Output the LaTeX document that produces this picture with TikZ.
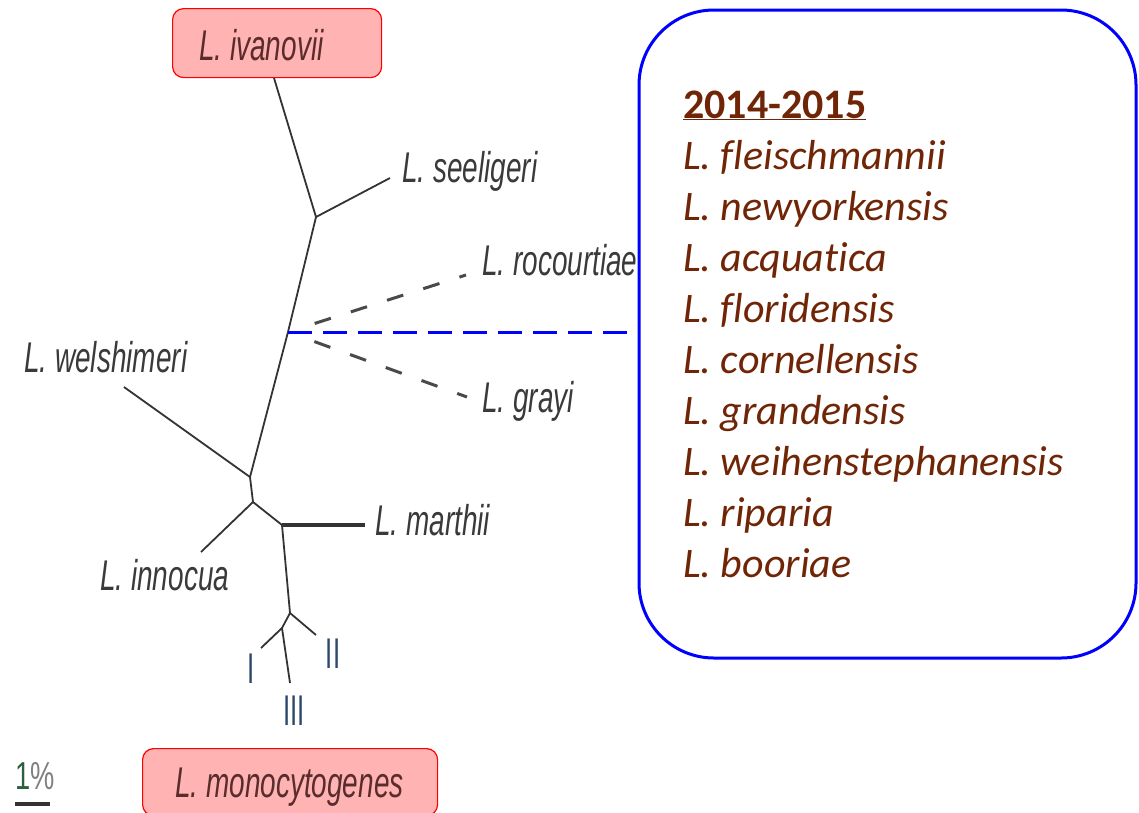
\documentclass[tikz,border=0pt]{standalone}
\usepackage{fontspec}
\setmainfont{Liberation Sans}
\newfontfamily\listfont[Ligatures={NoCommon}]{Carlito}
\usepackage{graphicx}
\usetikzlibrary{calc}

\definecolor{treegray}{HTML}{333333}
\definecolor{labelgray}{HTML}{3A3A3A}
\definecolor{newgray}{HTML}{4A4A4A}
\definecolor{listbrown}{RGB}{112,38,6}
\definecolor{pinkfill}{HTML}{FFB3B3}
\definecolor{boxtext}{HTML}{5A2C2C}
\definecolor{typeblue}{HTML}{2E4A6B}
\definecolor{scalegreen}{HTML}{2E5E3E}

% condensed italic taxon names used on the tree
\newcommand{\taxon}[1]{\scalebox{0.65}[1]{\itshape #1}}
\newcommand{\lineage}[1]{\scalebox{0.6}[1]{#1}}

\begin{document}
\begin{tikzpicture}[x=1pt,y=-1pt,
  branch/.style={draw=treegray, line width=1.8pt},
  thickbranch/.style={draw=treegray, line width=4pt},
  newbranch/.style={draw=newgray, line width=3pt, dash pattern=on 17pt off 21pt},
  link/.style={draw=blue, line width=3pt, dash pattern=on 24pt off 11pt},
  tiplabel/.style={text=labelgray, font=\fontsize{43}{43}\selectfont,
    inner sep=0pt, anchor=base west},
  typelabel/.style={text=typeblue, font=\fontsize{43}{43}\selectfont,
    inner sep=0pt, anchor=base},
  keybox/.style={draw=red, fill=pinkfill, line width=1.2pt, rounded corners=11pt,
    inner sep=0pt, anchor=north west},
  keylabel/.style={text=boxtext, font=\fontsize{43}{43}\selectfont,
    inner sep=0pt, anchor=base west},
  listframe/.style={draw=blue, fill=white, line width=3pt, rounded corners=75pt,
    minimum width=497pt, minimum height=648pt, inner sep=0pt},
  listhead/.style={text=listbrown, font=\listfont\bfseries\fontsize{42}{42}\selectfont,
    inner sep=0pt, anchor=base west},
  listitem/.style={text=listbrown, font=\listfont\itshape\fontsize{42}{42}\selectfont,
    inner sep=0pt, anchor=base west}
]
\useasboundingbox (0,0) rectangle (1139,812);
\clip (0,0) rectangle (1139,812);

% branch points and tips of the unrooted tree
\coordinate (tIv)  at (274,78);
\coordinate (F1)   at (316,217);
\coordinate (tSee) at (390,178);
\coordinate (J)    at (288,332);
\coordinate (F2)   at (250,477);
\coordinate (tWel) at (124,387);
\coordinate (F3)   at (253,502);
\coordinate (tInn) at (201,552);
\coordinate (F4)   at (282,525);
\coordinate (tMar) at (365,525);
\coordinate (F5)   at (290,613);
\coordinate (tII)  at (316,635);
\coordinate (F6)   at (282,628);
\coordinate (tI)   at (261,648);
\coordinate (tIII) at (290,683);
\coordinate (tRoc) at (466,275);
\coordinate (tGra) at (467,397);

% solid branches
\draw[branch] (tIv) -- (F1) -- (tSee);
\draw[branch] (F1) -- (J) -- (F2) -- (F3);
\draw[branch] (tWel) -- (F2);
\draw[branch] (tInn) -- (F3) -- (F4);
\draw[thickbranch] (F4) -- (tMar);
\draw[branch] (F4) -- (F5) -- (tII);
\draw[branch] (F5) -- (F6) -- (tI);
\draw[branch] (F6) -- (tIII);

% recently described species, dashed
\draw[newbranch] ($(J)!28pt!(tRoc)$) -- (tRoc);
\draw[newbranch] ($(J)!28pt!(tGra)$) -- (tGra);

% tip labels
\node[tiplabel] (lSee) at (402,182) {\taxon{L. seeligeri}};
\node[tiplabel] (lRoc) at (482,275) {\taxon{L. rocourtiae}};
\node[tiplabel] (lGra) at (482,412) {\taxon{L. grayi}};
\node[tiplabel] (lWel) at (24,372)  {\taxon{L. welshimeri}};
\node[tiplabel] (lMar) at (375,535) {\taxon{L. marthii}};
\node[tiplabel] (lInn) at (100,590) {\taxon{L. innocua}};

% lineages of L. monocytogenes
\node[typelabel] (lI)   at (251,683) {\lineage{I}};
\node[typelabel] (lII)  at (333,668) {\lineage{II}};
\node[typelabel] (lIII) at (294,725) {\lineage{III}};

% highlighted species
\node[keybox, minimum width=209pt, minimum height=69pt] (ivanbox) at (172,8) {};
\node[keylabel] (ivan) at (199,60) {\taxon{L. ivanovii}};
\node[keybox, minimum width=295pt, minimum height=67pt] (monobox) at (142,748) {};
\node[keylabel] (mono) at (175,797) {\taxon{L. monocytogenes}};

% scale bar
\node[inner sep=0pt, anchor=base west, font=\fontsize{39}{39}\selectfont] (scale) at (15,789)
  {\scalebox{0.7}[1]{\textcolor{scalegreen}{1}\textcolor{gray}{\%}}};
\coordinate (barL) at (15,804);
\coordinate (barR) at (50,804);
\draw[draw=treegray, line width=4pt] (barL) -- (barR);

% list of new species
\node[listframe] (listbox) at (887.5,334) {};
\draw[link] (J) -- (J -| listbox.west);

\node[listhead] (year) at (683,118) {\underline{2014-2015}};
\foreach \sp [count=\i] in {fleischmannii, newyorkensis, acquatica, floridensis,
    cornellensis, grandensis, weihenstephanensis, riparia, booriae}
  \node[listitem] (sp\i) at (683,{118+51.1*\i}) {L. \sp};
\end{tikzpicture}
\end{document}
